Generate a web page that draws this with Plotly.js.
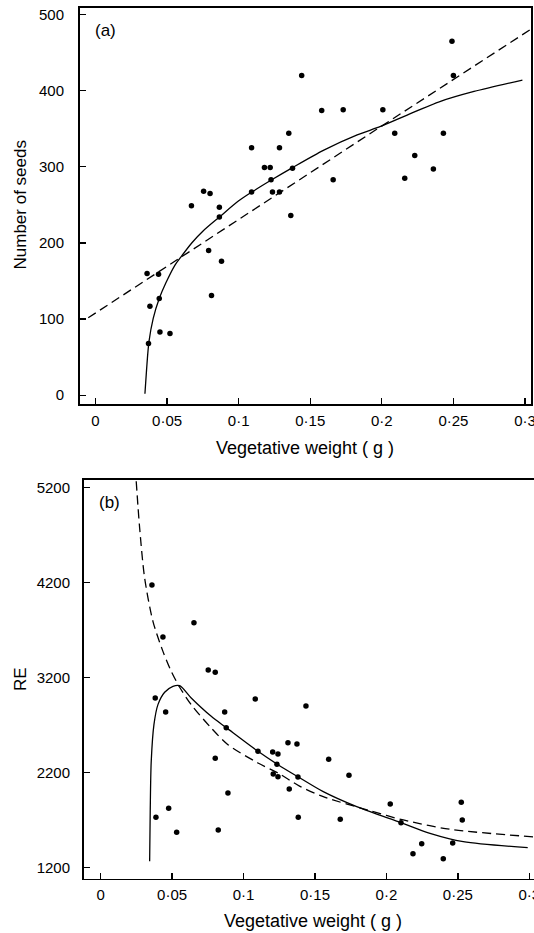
<!DOCTYPE html>
<html>
<head>
<meta charset="utf-8">
<script src="https://cdn.plot.ly/plotly-3.0.1.min.js"></script>
<style>
  html, body { margin: 0; padding: 0; background: #fff; }
  #chart { width: 534px; height: 933px; }
</style>
</head>
<body>
<div id="chart"></div>
<script>
// ---------- Panel (a): number of seeds vs vegetative weight ----------
const weightA = [0.036, 0.044, 0.038, 0.0445, 0.037, 0.045, 0.052, 0.067, 0.0755, 0.080,
                 0.0865, 0.0865, 0.079, 0.088, 0.081, 0.109, 0.118, 0.122, 0.1285, 0.135,
                 0.1376, 0.1226, 0.109, 0.1236, 0.1285, 0.1364, 0.144, 0.158, 0.173, 0.2007,
                 0.166, 0.209, 0.223, 0.216, 0.236, 0.243, 0.249, 0.250];
const seedsA  = [160, 159, 117, 127, 68, 83, 81, 249, 268, 265,
                 247, 234, 190, 176, 131, 325, 299, 299, 325, 344,
                 298, 283, 267, 267, 267, 236, 420, 374, 375, 375,
                 283, 344, 315, 285, 297, 344, 465, 420];

// fitted curves
const solidAx = [0.0345, 0.0357, 0.0373, 0.0403, 0.0445, 0.049, 0.0555, 0.0602, 0.0672, 0.0753,
                 0.0865, 0.0998, 0.1093, 0.1231, 0.1376, 0.1595, 0.1828, 0.1991, 0.2177, 0.241,
                 0.2644, 0.2982];
const solidAy = [2, 35, 70, 101, 127, 147, 171, 183, 200, 216,
                 234, 255, 267, 283, 299, 322, 342, 353, 368, 386,
                 399, 414];
const dashAx = [-0.0051, 0.0569, 0.1991, 0.3035];
const dashAy = [101.7, 178, 352.6, 480];

// ---------- Panel (b): RE vs vegetative weight ----------
const weightB = [0.0359, 0.0436, 0.0653, 0.0753, 0.0802, 0.0382, 0.0455, 0.1082, 0.0868, 0.0879,
                 0.0802, 0.0891, 0.0387, 0.0476, 0.0532, 0.0823, 0.1101, 0.1204, 0.1241, 0.1234,
                 0.1208, 0.1241, 0.1311, 0.1374, 0.1381, 0.1320, 0.1383, 0.1437, 0.1596, 0.1738,
                 0.1677, 0.2027, 0.2102, 0.2186, 0.2247, 0.2398, 0.2464, 0.2524, 0.2531];
const reB     = [4171, 3624, 3775, 3277, 3252, 2982, 2835, 2972, 2835, 2670,
                 2347, 1982, 1726, 1821, 1568, 1593, 2421, 2414, 2393, 2284,
                 2182, 2154, 2512, 2498, 2150, 2024, 1726, 2898, 2336, 2168,
                 1705, 1866, 1670, 1343, 1449, 1291, 1456, 1884, 1698];

const solidBx = [0.0343, 0.0347, 0.0354, 0.0373, 0.0401, 0.0448, 0.0506, 0.0553, 0.0634, 0.0774,
                 0.0879, 0.1101, 0.1241, 0.1395, 0.1558, 0.1792, 0.2102, 0.2305, 0.2538, 0.2989];
const solidBy = [1263, 1789, 2315, 2701, 2912, 3042, 3105, 3112, 2982, 2789,
                 2670, 2421, 2280, 2140, 1996, 1838, 1670, 1558, 1470, 1407];
const dashBx = [0.0249, 0.0273, 0.0308, 0.0366, 0.0436, 0.0494, 0.0553, 0.0634, 0.0774, 0.0891,
                0.1101, 0.1241, 0.1395, 0.1558, 0.1885, 0.2118, 0.2445, 0.3033];
const dashBy = [5263, 4772, 4245, 3789, 3473, 3263, 3095, 2912, 2666, 2491,
                2298, 2193, 2052, 1943, 1796, 1698, 1600, 1520];

// tick labels
const xTickVals = [0, 0.05, 0.1, 0.15, 0.2, 0.25, 0.3];
const xTickText = ['0', '0·05', '0·1', '0·15', '0·2', '0·25', '0·3'];
const yTickValsA = [0, 100, 200, 300, 400, 500];
const yTickValsB = [1200, 2200, 3200, 4200, 5200];

const W = 534, H = 933;
const FONT = 'Liberation Sans, Arial, Helvetica, sans-serif';
const px = v => v / W;
const py = v => 1 - v / H;

const markerStyle = {color: '#000', size: 5.5, symbol: 'circle'};
const solidLine = {color: '#000', width: 1.3, shape: 'spline', smoothing: 0.8};
const dashLine = {color: '#000', width: 1.3, dash: '9px,5px', shape: 'spline', smoothing: 0.8};

const traces = [
  {x: weightA, y: seedsA, type: 'scatter', mode: 'markers', marker: markerStyle, xaxis: 'x', yaxis: 'y'},
  {x: solidAx, y: solidAy, type: 'scatter', mode: 'lines', line: solidLine, xaxis: 'x', yaxis: 'y'},
  {x: dashAx, y: dashAy, type: 'scatter', mode: 'lines', line: Object.assign({}, dashLine, {shape: 'linear'}), xaxis: 'x', yaxis: 'y'},
  {x: weightB, y: reB, type: 'scatter', mode: 'markers', marker: markerStyle, xaxis: 'x2', yaxis: 'y2'},
  {x: solidBx, y: solidBy, type: 'scatter', mode: 'lines', line: solidLine, xaxis: 'x2', yaxis: 'y2'},
  {x: dashBx, y: dashBy, type: 'scatter', mode: 'lines', line: dashLine, xaxis: 'x2', yaxis: 'y2'}
];

const axisCommon = {
  showgrid: false, zeroline: false, showline: true, linecolor: '#000', linewidth: 1.5,
  tickcolor: '#000', tickwidth: 1.3, ticks: 'inside', ticklen: 6,
  tickfont: {family: FONT, size: 15, color: '#000'}, tickmode: 'array',
  ticklabeloverflow: 'allow'
};

const layout = {
  width: W, height: H,
  margin: {l: 0, r: 0, t: 0, b: 0, pad: 0},
  paper_bgcolor: '#fff', plot_bgcolor: '#fff',
  showlegend: false,
  font: {family: FONT, color: '#000'},
  xaxis: Object.assign({}, axisCommon, {
    domain: [px(79.5), px(531)], range: [-0.0112, 0.3042], anchor: 'y', mirror: true,
    tickvals: xTickVals, ticktext: xTickText, ticklabelstandoff: 2
  }),
  yaxis: Object.assign({}, axisCommon, {
    domain: [py(404), py(7.7)], range: [-11.5, 509], anchor: 'x', mirror: true,
    tickvals: yTickValsA, ticktext: yTickValsA.map(String), ticklabelstandoff: 11
  }),
  xaxis2: Object.assign({}, axisCommon, {
    domain: [px(83.5), 1], range: [-0.0120, 0.3033], anchor: 'y2', mirror: true,
    tickvals: xTickVals, ticktext: xTickText, ticklabelstandoff: 2
  }),
  yaxis2: Object.assign({}, axisCommon, {
    domain: [py(878.5), py(479.7)], range: [1082, 5280], anchor: 'x2', mirror: false,
    tickvals: yTickValsB, ticktext: yTickValsB.map(String), ticklabelstandoff: 9
  }),
  annotations: [
    {text: '(a)', x: px(105), y: py(30), xref: 'paper', yref: 'paper', showarrow: false,
     xanchor: 'center', yanchor: 'middle', font: {family: FONT, size: 17, color: '#000'}},
    {text: '(b)', x: px(109), y: py(502), xref: 'paper', yref: 'paper', showarrow: false,
     xanchor: 'center', yanchor: 'middle', font: {family: FONT, size: 17, color: '#000'}},
    {text: 'Number of seeds', x: px(20), y: py(205.5), xref: 'paper', yref: 'paper', showarrow: false,
     textangle: -90, xanchor: 'center', yanchor: 'middle', font: {family: FONT, size: 17, color: '#000'}},
    {text: 'RE', x: px(20), y: py(679), xref: 'paper', yref: 'paper', showarrow: false,
     textangle: -90, xanchor: 'center', yanchor: 'middle', font: {family: FONT, size: 17, color: '#000'}},
    {text: 'Vegetative weight ( g )', x: px(305), y: py(448), xref: 'paper', yref: 'paper', showarrow: false,
     xanchor: 'center', yanchor: 'middle', font: {family: FONT, size: 18, color: '#000'}},
    {text: 'Vegetative weight ( g )', x: px(313), y: py(921), xref: 'paper', yref: 'paper', showarrow: false,
     xanchor: 'center', yanchor: 'middle', font: {family: FONT, size: 18, color: '#000'}}
  ]
};

Plotly.newPlot('chart', traces, layout, {staticPlot: true, displayModeBar: false});
</script>
</body>
</html>
